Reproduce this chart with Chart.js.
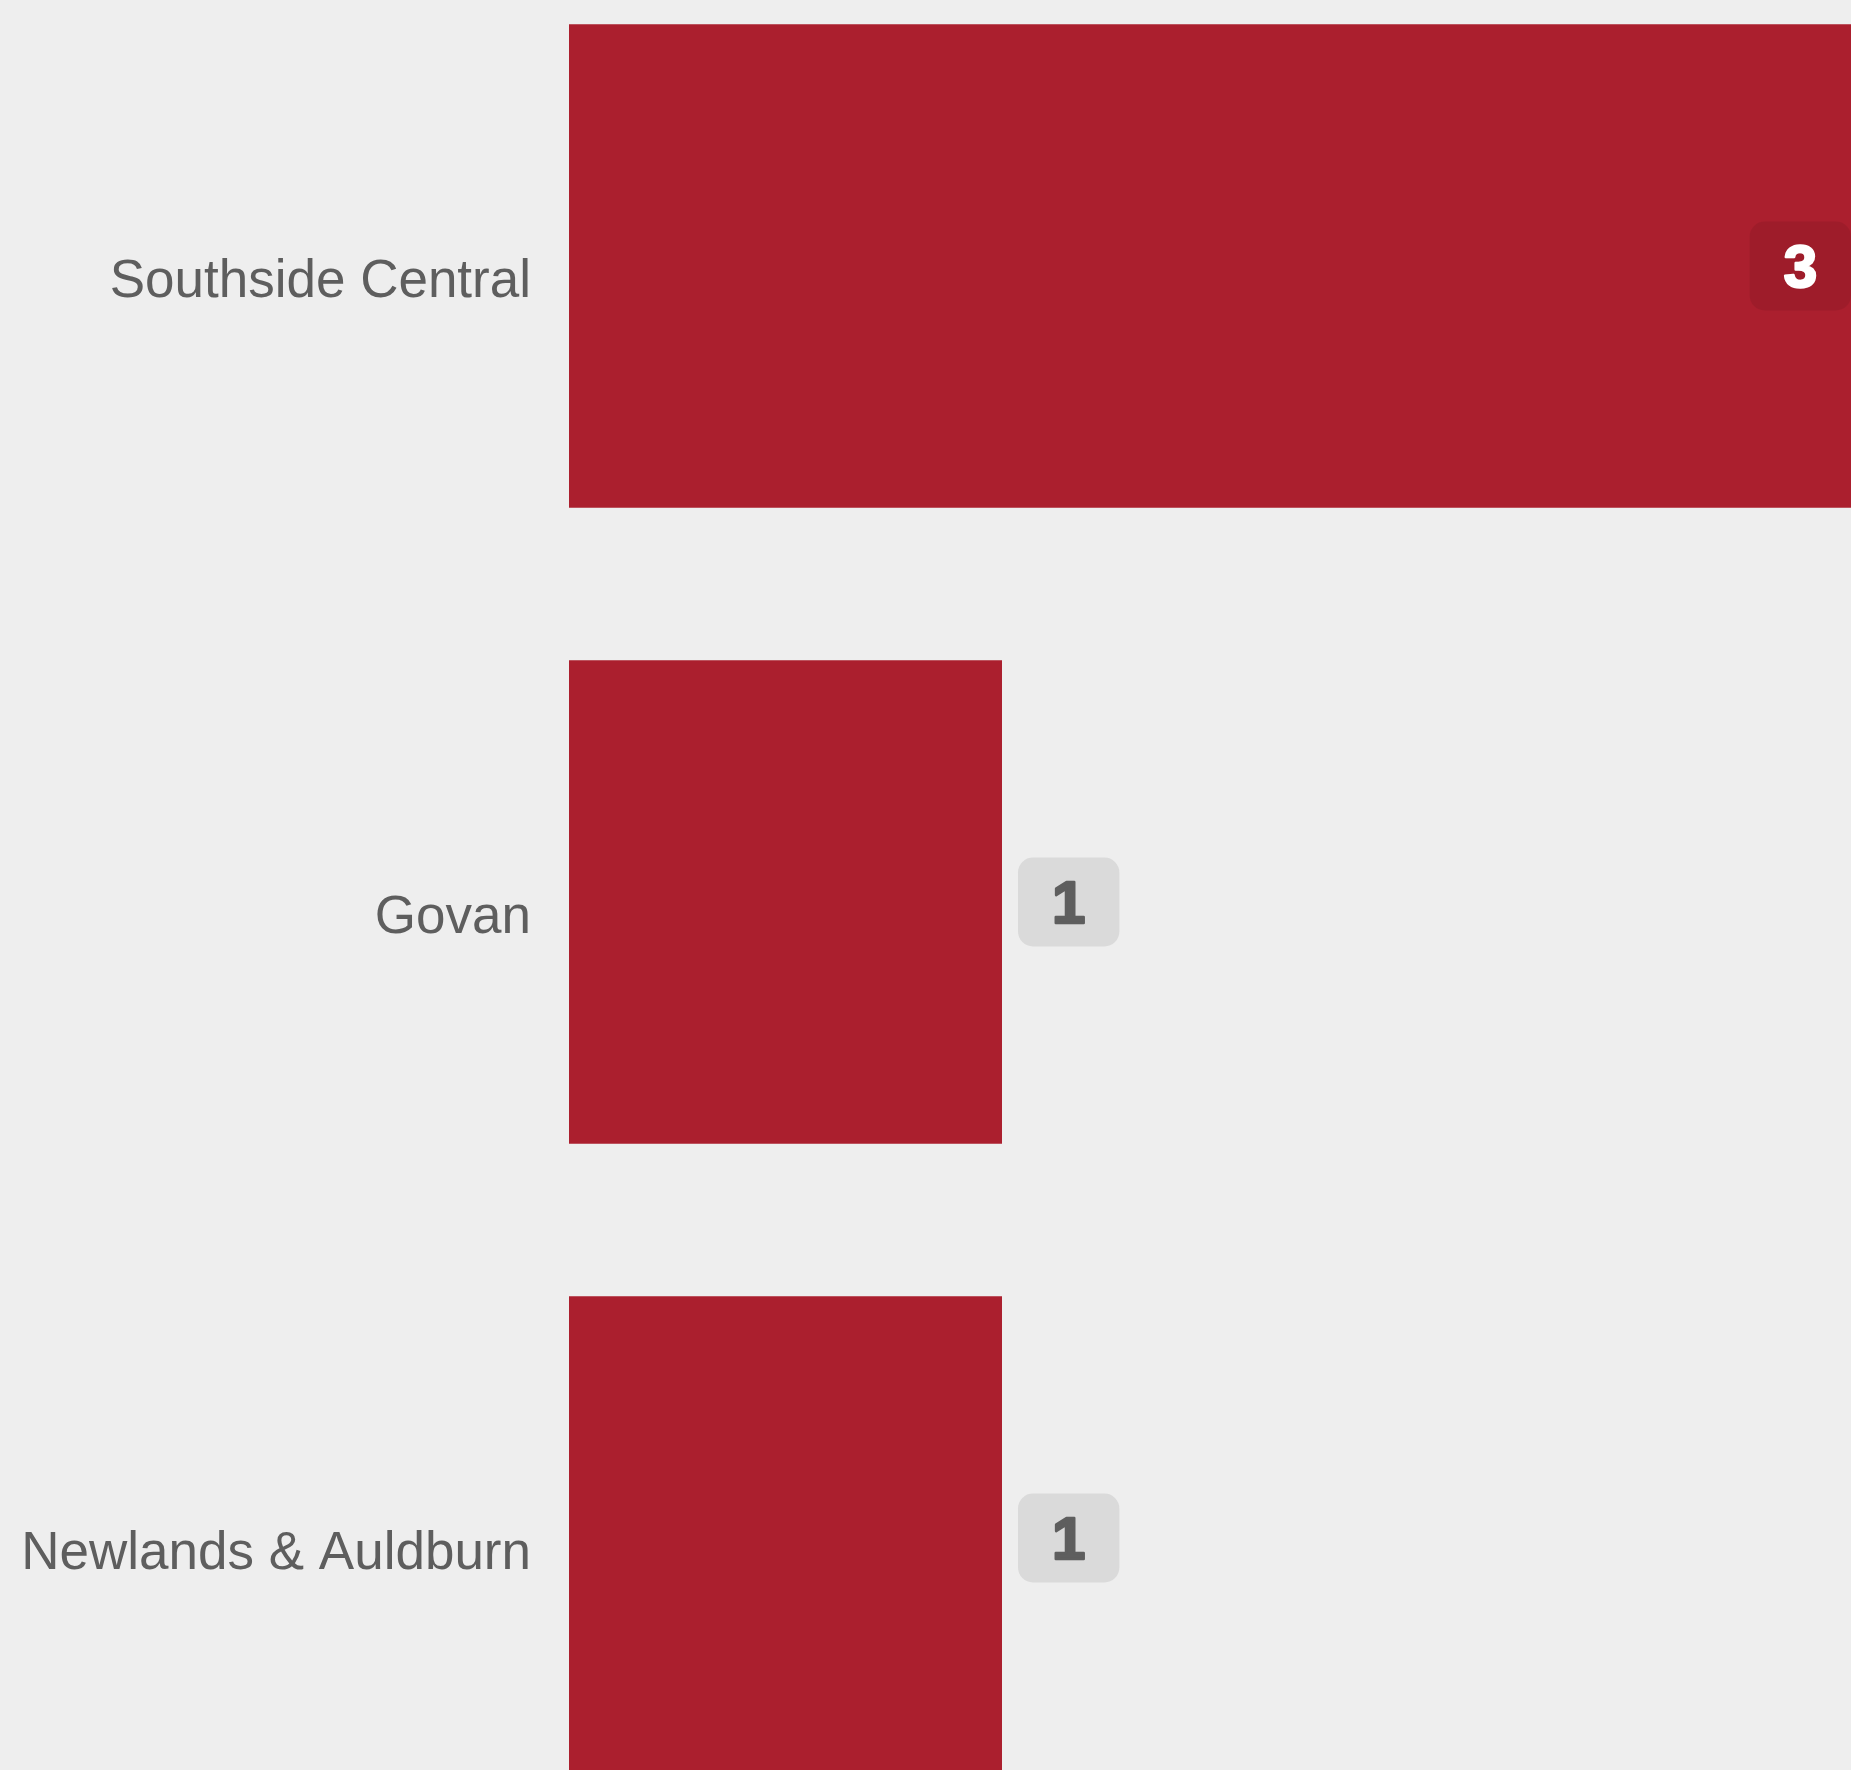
<!DOCTYPE html>
<html>
<head>
<meta charset="utf-8">
<script src="https://cdn.jsdelivr.net/npm/chart.js@4"></script>
<style>
  html, body { margin: 0; padding: 0; background: #eeeeee; overflow: hidden; width: 1851px; height: 1770px; }
  #wrap { position: absolute; left: 0; top: -52px; width: 1868px; height: 1908px; }
</style>
</head>
<body>
<div id="wrap"><canvas id="myChart" width="1868" height="1908"></canvas></div>
<script>
const wards = ["Southside Central", "Govan", "Newlands & Auldburn"];
const counts = [3, 1, 1];
const xMin = 0;
const xMax = 3;

const barColor = "#ab1f2e";
const textGrey = "#5e5e5e";

// value badges + category labels drawn on top of the bars
const barLabels = {
  id: "barLabels",
  afterDatasetsDraw(chart) {
    const ctx = chart.ctx;
    const meta = chart.getDatasetMeta(0);
    const yScale = chart.scales.y;
    const top = Math.max(...counts);

    ctx.save();
    ctx.font = 'bold 60px "Liberation Sans", Arial, sans-serif';
    ctx.textAlign = "center";
    ctx.textBaseline = "alphabetic";
    ctx.lineJoin = "round";
    meta.data.forEach((bar, i) => {
      const text = String(counts[i]);
      const w = ctx.measureText(text).width + 68;
      const h = 89;
      const inside = counts[i] === top;
      const left = inside ? bar.x - 17 - w : bar.x + 16;
      ctx.fillStyle = inside ? "rgba(0,0,0,0.07)" : "#dadada";
      ctx.beginPath();
      ctx.roundRect(left, bar.y - h / 2, w, h, 15);
      ctx.fill();
      const col = inside ? "#ffffff" : textGrey;
      ctx.fillStyle = col;
      ctx.strokeStyle = col;
      ctx.lineWidth = 2.5;
      ctx.fillText(text, left + w / 2, bar.y + 21);
      ctx.strokeText(text, left + w / 2, bar.y + 21);
    });

    ctx.font = '53px "Liberation Sans", Arial, sans-serif';
    ctx.fillStyle = textGrey;
    ctx.textAlign = "right";
    wards.forEach((name, i) => {
      ctx.fillText(name, yScale.right - 38, yScale.getPixelForTick(i) + 31);
    });
    ctx.restore();
  }
};

const ctx = document.getElementById("myChart").getContext("2d");
const chart = new Chart(ctx, {
  type: "bar",
  data: {
    labels: wards,
    datasets: [{
      data: counts,
      backgroundColor: barColor,
      borderWidth: 0,
      categoryPercentage: 0.8,
      barPercentage: 0.95
    }]
  },
  options: {
    indexAxis: "y",
    responsive: false,
    animation: false,
    layout: { padding: 0 },
    plugins: {
      legend: { display: false },
      tooltip: { enabled: false }
    },
    scales: {
      x: { min: xMin, max: xMax, display: false },
      y: {
        grid: { display: false },
        border: { display: false },
        ticks: { display: false },
        afterFit: scale => { scale.width = 569; }
      }
    }
  },
  plugins: [barLabels]
});
</script>
</body>
</html>
